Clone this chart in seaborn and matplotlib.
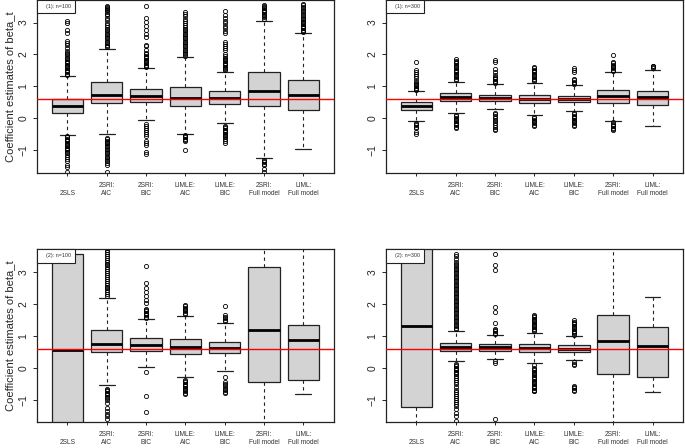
import numpy as np
import matplotlib
matplotlib.use("Agg")
import matplotlib.pyplot as plt
import seaborn as sns
from matplotlib.patches import Rectangle

methods = ["\n2SLS", "2SRI:\nAIC", "2SRI:\nBIC", "LIMLE:\nAIC", "LIMLE:\nBIC",
           "2SRI:\nFull model", "LIML:\nFull model"]
true_beta = 0.6

# ---- scenario (1), n=100 ----
s1n100_q1 = [0.16, 0.47, 0.50, 0.39, 0.44, 0.39, 0.26]
s1n100_med = [0.37, 0.73, 0.69, 0.65, 0.63, 0.87, 0.73]
s1n100_q3 = [0.61, 1.15, 0.93, 0.99, 0.85, 1.46, 1.21]
s1n100_wlo = [-0.52, -0.48, -0.06, -0.48, -0.15, -1.24, -0.95]
s1n100_whi = [1.31, 2.18, 1.56, 1.91, 1.45, 3.06, 2.67]
s1n100_out = [
    [1.35, 1.4, 1.44, 1.48, 1.52, 1.56, 1.6, 1.64, 1.68, 1.72, 1.76, 1.8, 1.85, 1.9, 1.95, 2.0,
     2.05, 2.12, 2.2, 2.28, 2.35, 2.42, 2.68, 2.75, 2.98, 3.05,
     -0.56, -0.6, -0.64, -0.68, -0.72, -0.76, -0.8, -0.84, -0.88, -0.92, -0.96, -1.0, -1.05,
     -1.1, -1.15, -1.2, -1.28, -1.35, -1.45, -1.52, -1.69],
    [2.22, 2.26, 2.3, 2.35, 2.4, 2.45, 2.5, 2.55, 2.6, 2.65, 2.7, 2.75, 2.8, 2.86, 2.92, 3.0,
     3.08, 3.15, 3.22, 3.28, 3.33, 3.38, 3.42, 3.46, 3.5, 3.53,
     -0.62, -0.66, -0.7, -0.74, -0.78, -0.82, -0.86, -0.9, -0.95, -1.0, -1.05, -1.1, -1.15,
     -1.2, -1.25, -1.3, -1.35, -1.4, -1.45, -1.67],
    [1.6, 1.64, 1.68, 1.72, 1.76, 1.8, 1.84, 1.88, 1.92, 1.96, 2.0, 2.05, 2.14, 2.25, 2.3,
     2.55, 2.65, 2.75, 2.9, 3.03, 3.13, 3.52,
     -0.18, -0.24, -0.3, -0.36, -0.42, -0.5, -0.56, -0.7, -0.76, -0.83, -1.05, -1.12],
    [1.95, 2.0, 2.05, 2.1, 2.15, 2.2, 2.25, 2.3, 2.35, 2.4, 2.45, 2.5, 2.55, 2.6, 2.65, 2.7,
     2.75, 2.8, 2.86, 2.92, 2.98, 3.05, 3.12, 3.2, 3.27, 3.34,
     -0.52, -0.56, -0.6, -0.64, -0.68, -0.72, -0.98],
    [1.5, 1.54, 1.58, 1.62, 1.66, 1.7, 1.74, 1.78, 1.82, 1.86, 1.9, 1.95, 2.0, 2.14, 2.2,
     2.26, 2.32, 2.38, 2.66, 2.72, 2.82, 2.9, 2.98, 3.06, 3.14, 3.24, 3.35,
     -0.24, -0.28, -0.32, -0.36, -0.4, -0.44, -0.48, -0.52, -0.56, -0.6, -0.66, -0.72, -0.76],
    [3.12, 3.16, 3.2, 3.24, 3.28, 3.32, 3.36, 3.4, 3.44, 3.48, 3.52, 3.56,
     -1.3, -1.34, -1.38, -1.42, -1.46, -1.6, -1.67],
    [2.7, 2.74, 2.78, 2.82, 2.86, 2.9, 2.94, 2.98, 3.02, 3.06, 3.1, 3.15, 3.2, 3.25, 3.3,
     3.35, 3.4, 3.45, 3.5, 3.55, 3.58],
]

# ---- scenario (1), n=300 ----
s1n300_q1 = [0.25, 0.53, 0.55, 0.48, 0.50, 0.48, 0.41]
s1n300_med = [0.37, 0.67, 0.65, 0.61, 0.61, 0.69, 0.66]
s1n300_q3 = [0.50, 0.78, 0.74, 0.73, 0.71, 0.88, 0.87]
s1n300_wlo = [-0.08, 0.16, 0.29, 0.09, 0.23, -0.08, -0.23]
s1n300_whi = [0.84, 1.15, 1.07, 1.12, 1.04, 1.44, 1.52]
s1n300_out = [
    [0.88, 0.92, 0.96, 1.0, 1.04, 1.08, 1.12, 1.16, 1.25, 1.32, 1.38, 1.45, 1.52, 1.75,
     -0.14, -0.18, -0.22, -0.26, -0.3, -0.43, -0.5],
    [1.2, 1.24, 1.28, 1.32, 1.36, 1.4, 1.44, 1.48, 1.52, 1.56, 1.6, 1.64, 1.68, 1.72, 1.76,
     1.8, 1.85, 0.1, 0.06, 0.02, -0.02, -0.06, -0.1, -0.14, -0.18, -0.22, -0.26, -0.31],
    [1.1, 1.14, 1.18, 1.22, 1.26, 1.3, 1.34, 1.46, 1.55, 1.75, 1.84,
     0.18, 0.12, 0.06, 0.0, -0.05, -0.1, -0.16, -0.22, -0.28, -0.34, -0.37],
    [1.16, 1.2, 1.24, 1.28, 1.32, 1.36, 1.4, 1.44, 1.48, 1.52, 1.56, 1.6,
     0.04, 0.0, -0.04, -0.08, -0.12, -0.16, -0.2, -0.24],
    [1.07, 1.11, 1.15, 1.19, 1.23, 1.44, 1.5, 1.58,
     0.16, 0.12, 0.08, 0.04, 0.0, -0.04, -0.08, -0.12, -0.16, -0.2, -0.24],
    [1.48, 1.52, 1.56, 1.6, 1.64, 1.68, 1.72, 1.76, 1.99,
     -0.13, -0.17, -0.21, -0.25, -0.29, -0.33, -0.36],
    [1.57, 1.6, 1.63, 1.65],
]

# ---- scenario (2), n=100 ----
s2n100_q1 = [-3.0, 0.49, 0.52, 0.44, 0.46, -0.45, -0.38]
s2n100_med = [0.57, 0.75, 0.71, 0.66, 0.63, 1.19, 0.86]
s2n100_q3 = [3.55, 1.17, 0.92, 0.90, 0.82, 3.14, 1.34]
s2n100_wlo = [-9.0, -0.54, 0.01, -0.30, -0.09, -5.5, -0.81]
s2n100_whi = [12.0, 2.19, 1.51, 1.63, 1.41, 8.5, 4.5]
s2n100_out = [
    [],
    [2.24, 2.3, 2.36, 2.42, 2.48, 2.54, 2.6, 2.66, 2.72, 2.78, 2.84, 2.9, 2.96, 3.02, 3.08,
     3.14, 3.2, 3.26, 3.32, 3.38, 3.44, 3.5, 3.56, 3.62, 3.68, 3.75,
     -0.66, -0.7, -0.74, -0.78, -0.82, -0.86, -0.9, -0.95, -1.0, -1.1, -1.26, -1.36, -1.44,
     -1.52, -1.6],
    [1.56, 1.6, 1.64, 1.68, 1.72, 1.76, 1.8, 1.85, 2.03, 2.13, 2.24, 2.36, 2.5, 2.66, 3.18,
     -0.12, -0.88, -1.39],
    [1.68, 1.72, 1.76, 1.8, 1.84, 1.88, 1.92, 1.96,
     -0.38, -0.42, -0.46, -0.5, -0.54, -0.58, -0.62, -0.66, -0.7, -0.74, -0.78, -0.82],
    [1.45, 1.5, 1.55, 1.6, 1.65, 1.93,
     -0.3, -0.45, -0.5, -0.55, -0.6, -0.65, -0.7, -0.75, -0.79],
    [],
    [],
]

# ---- scenario (2), n=300 ----
s2n300_q1 = [-1.24, 0.54, 0.54, 0.48, 0.50, -0.18, -0.29]
s2n300_med = [1.31, 0.66, 0.64, 0.61, 0.59, 0.84, 0.69]
s2n300_q3 = [4.6, 0.79, 0.75, 0.75, 0.72, 1.64, 1.26]
s2n300_wlo = [-5.0, 0.21, 0.27, 0.14, 0.24, -3.5, -0.77]
s2n300_whi = [9.0, 1.16, 1.02, 1.10, 0.99, 4.5, 2.21]
s2n300_out = [
    [],
    [1.2, 1.25, 1.3, 1.35, 1.4, 1.45, 1.5, 1.55, 1.6, 1.65, 1.7, 1.75, 1.8, 1.85, 1.9, 1.95,
     2.0, 2.05, 2.1, 2.15, 2.2, 2.25, 2.3, 2.35, 2.4, 2.45, 2.5, 2.55, 2.6, 2.65, 2.7, 2.75,
     2.8, 2.85, 2.9, 2.95, 3.0, 3.05, 3.1, 3.15, 3.2, 3.25, 3.3, 3.4, 3.5, 3.57,
     0.12, 0.08, 0.04, 0.0, -0.04, -0.08, -0.12, -0.16, -0.2, -0.26, -0.32, -0.38, -0.44,
     -0.5, -0.6, -0.7, -0.76, -0.82, -0.88, -0.94, -1.0, -1.06, -1.12, -1.2, -1.3, -1.4,
     -1.5, -1.67],
    [1.06, 1.1, 1.14, 1.18, 1.22, 1.4, 1.73, 1.9, 3.05, 3.2, 3.57, 0.21, 0.15, -1.61],
    [1.14, 1.18, 1.22, 1.26, 1.3, 1.34, 1.38, 1.42, 1.46, 1.5, 1.54, 1.58, 1.62, 1.66,
     0.1, 0.0, -0.04, -0.08, -0.12, -0.16, -0.2, -0.24, -0.28, -0.32, -0.36, -0.4, -0.44,
     -0.48, -0.52, -0.56, -0.6, -0.64, -0.68, -0.72, -0.74],
    [1.04, 1.08, 1.12, 1.16, 1.2, 1.24, 1.28, 1.32, 1.36, 1.4, 1.44, 1.48,
     0.18, 0.13, 0.08, -0.56, -0.6, -0.64, -0.68, -0.72],
    [],
    [],
]

sns.set_style("ticks")
plt.rcParams['font.family'] = ['Liberation Sans', 'DejaVu Sans']
plt.rcParams['axes.unicode_minus'] = True

fig = plt.figure(figsize=(6.85, 4.48), dpi=100)
fig.patch.set_facecolor('white')


def draw_panel(rect, q1, med, q3, wlo, whi, out, tag, ylabel):
    ax = fig.add_axes(rect)
    stats = [dict(q1=a, med=m, q3=b, whislo=lo, whishi=hi, fliers=np.array(f))
             for a, m, b, lo, hi, f in zip(q1, med, q3, wlo, whi, out)]
    ax.bxp(stats, positions=range(1, 8), widths=0.8, capwidths=0.4, patch_artist=True,
           manage_ticks=False,
           boxprops=dict(facecolor='#D3D3D3', edgecolor='#222222', linewidth=0.9),
           medianprops=dict(color='black', linewidth=2.0, solid_capstyle='butt'),
           whiskerprops=dict(color='#222222', linewidth=0.8, linestyle=(0, (3, 3))),
           capprops=dict(color='#222222', linewidth=0.9),
           flierprops=dict(marker='o', markerfacecolor='none', markeredgecolor='black',
                           markersize=3.0, markeredgewidth=0.6, linestyle='none'))
    ax.axhline(true_beta, color='#FF0000', linewidth=1.0, zorder=4)
    ax.set_xlim(0.22, 7.78)
    ax.set_ylim(-1.705, 3.705)
    ax.set_xticks(range(1, 8))
    ax.set_xticklabels(methods, fontsize=4.8, color='#333333', linespacing=1.2)
    ax.set_yticks([-1, 0, 1, 2, 3])
    ax.tick_params(axis='x', length=2.5, width=0.7, pad=4)
    ax.tick_params(axis='y', length=3, width=0.7, pad=3, labelsize=7.5, labelrotation=90)
    for lab in ax.get_yticklabels():
        lab.set_va('center')
    for sp in ax.spines.values():
        sp.set_visible(True)
        sp.set_linewidth(0.9)
        sp.set_color('#222222')
    if ylabel:
        ax.set_ylabel("Coefficient estimates of beta_t", fontsize=8.0, labelpad=2)
    ax.add_patch(Rectangle((0, 1 - 0.077), 0.128, 0.077, transform=ax.transAxes,
                           facecolor='white', edgecolor='#222222', linewidth=0.8,
                           zorder=6, clip_on=False))
    ax.text(0.074, 1 - 0.0385, tag, transform=ax.transAxes, fontsize=3.9,
            ha='center', va='center', color='#333333', zorder=7)
    return ax


draw_panel([0.0536, 0.6145, 0.434, 0.3855], s1n100_q1, s1n100_med, s1n100_q3,
           s1n100_wlo, s1n100_whi, s1n100_out, "(1): n=100", True)
draw_panel([0.563, 0.6145, 0.4345, 0.3855], s1n300_q1, s1n300_med, s1n300_q3,
           s1n300_wlo, s1n300_whi, s1n300_out, "(1): n=300", False)
draw_panel([0.0536, 0.0574, 0.434, 0.3861], s2n100_q1, s2n100_med, s2n100_q3,
           s2n100_wlo, s2n100_whi, s2n100_out, "(2): n=100", True)
draw_panel([0.563, 0.0574, 0.4345, 0.3861], s2n300_q1, s2n300_med, s2n300_q3,
           s2n300_wlo, s2n300_whi, s2n300_out, "(2): n=300", False)

fig.savefig("out.png", dpi=100, facecolor='white')
